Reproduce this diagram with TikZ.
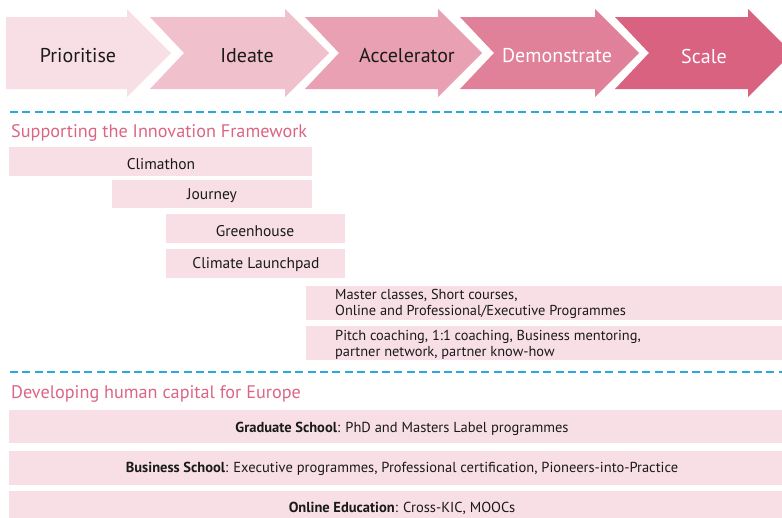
\documentclass[tikz,border=0pt]{standalone}
\usepackage{fontspec}
\setmainfont{PT Sans}
\definecolor{p1}{HTML}{F7DFE5}
\definecolor{p2}{HTML}{F0C0CC}
\definecolor{p3}{HTML}{E8A0B2}
\definecolor{p4}{HTML}{E08199}
\definecolor{p5}{HTML}{D96280}
\definecolor{headc}{HTML}{DB6585}
\definecolor{dashc}{HTML}{27AAE1}
\definecolor{txt}{HTML}{1A1A1A}
\tikzset{
  arrowtxt/.style={font=\fontsize{20}{23}\selectfont, text=txt, inner sep=0pt, yshift=-2pt},
  boxtxt/.style={font=\fontsize{15.5}{18}\selectfont, text=txt, inner sep=0pt, yshift=-1.5pt},
  smalltxt/.style={font=\fontsize{14.4}{15.5}\selectfont, text=txt, inner sep=0pt, align=left, anchor=west, yshift=-2pt},
  condtxt/.style={font=\fontsize{14.5}{16}\selectfont, text=txt, inner sep=0pt, yshift=-2pt},
  headtxt/.style={font=\fontsize{18.2}{20}\selectfont, text=headc, inner sep=0pt, anchor=west, yshift=-2pt},
  dashline/.style={draw=dashc, line width=1.6pt, dash pattern=on 8pt off 4.4pt},
  pbox/.style={fill=p1, draw=none},
}
\begin{document}
\begin{tikzpicture}[x=1pt,y=-1pt]
\useasboundingbox (0,0) rectangle (782,517);
\begin{scope}
\clip (0,0) rectangle (782,517);
% arrows
\fill[p1] (6,17) -- (127,17) -- (127,9) -- (171,53) -- (127,97) -- (127,89) -- (6,89) -- cycle;
\fill[p2] (150,17) -- (285,17) -- (285,9) -- (329,53) -- (285,97) -- (285,89) -- (150,89) -- (184,53) -- cycle;
\fill[p3] (305,17) -- (438,17) -- (438,9) -- (482,53) -- (438,97) -- (438,89) -- (305,89) -- (339,53) -- cycle;
\fill[p4] (460,17) -- (595,17) -- (595,9) -- (639,53) -- (595,97) -- (595,89) -- (460,89) -- (494,53) -- cycle;
\fill[p5] (615,17) -- (748,17) -- (748,9) -- (792,53) -- (748,97) -- (748,89) -- (615,89) -- (649,53) -- cycle;
\node[arrowtxt] (prio) at (78,54) {Prioritise};
\node[arrowtxt] (idea) at (247,54) {Ideate};
\node[arrowtxt] (acc) at (407,54) {Accelerator};
\node[arrowtxt, text=white] (demo) at (557,54) {Demonstrate};
\node[arrowtxt, text=white] (scale) at (704,54) {Scale};
% dashed lines
\coordinate (d1a) at (10,112); \coordinate (d1b) at (782,112);
\draw[dashline] (d1a) -- (d1b);
\coordinate (d2a) at (10,372); \coordinate (d2b) at (782,372);
\draw[dashline] (d2a) -- (d2b);
% headings
\node[headtxt] (h1) at (11,131) {Supporting the Innovation Framework};
\node[headtxt] (h2) at (11,392) {Developing human capital for Europe};
% boxes
\fill[pbox] (9,147) rectangle (312,176);
\node[boxtxt] (clim) at (161,163) {Climathon};
\fill[pbox] (112,180) rectangle (312,208);
\node[boxtxt] (jour) at (212,194) {Journey};
\fill[pbox] (166,214) rectangle (345,243);
\node[boxtxt] (green) at (255,230) {Greenhouse};
\fill[pbox] (166,249) rectangle (345,278);
\node[boxtxt] (launch) at (256,263) {Climate Launchpad};
\fill[pbox] (306,286) rectangle (790,320);
\node[smalltxt] (master) at (335,302) {Master classes, Short courses,\\Online and Professional/Executive Programmes};
\fill[pbox] (306,326) rectangle (790,360);
\node[smalltxt] (pitch) at (335,343) {Pitch coaching, 1:1 coaching, Business mentoring,\\partner network, partner know-how};
% bottom boxes
\fill[pbox] (9,410) rectangle (795,443);
\node[condtxt] (grad) at (402,427) {\textbf{Graduate School}: PhD and Masters Label programmes};
\fill[pbox] (9,451) rectangle (795,485);
\node[condtxt] (bus) at (402,467) {\textbf{Business School}: Executive programmes, Professional certification, Pioneers-into-Practice};
\fill[pbox] (9,491) rectangle (795,525);
\node[condtxt] (online) at (402,506) {\textbf{Online Education}: Cross-KIC, MOOCs};
\end{scope}
\end{tikzpicture}
\end{document}
